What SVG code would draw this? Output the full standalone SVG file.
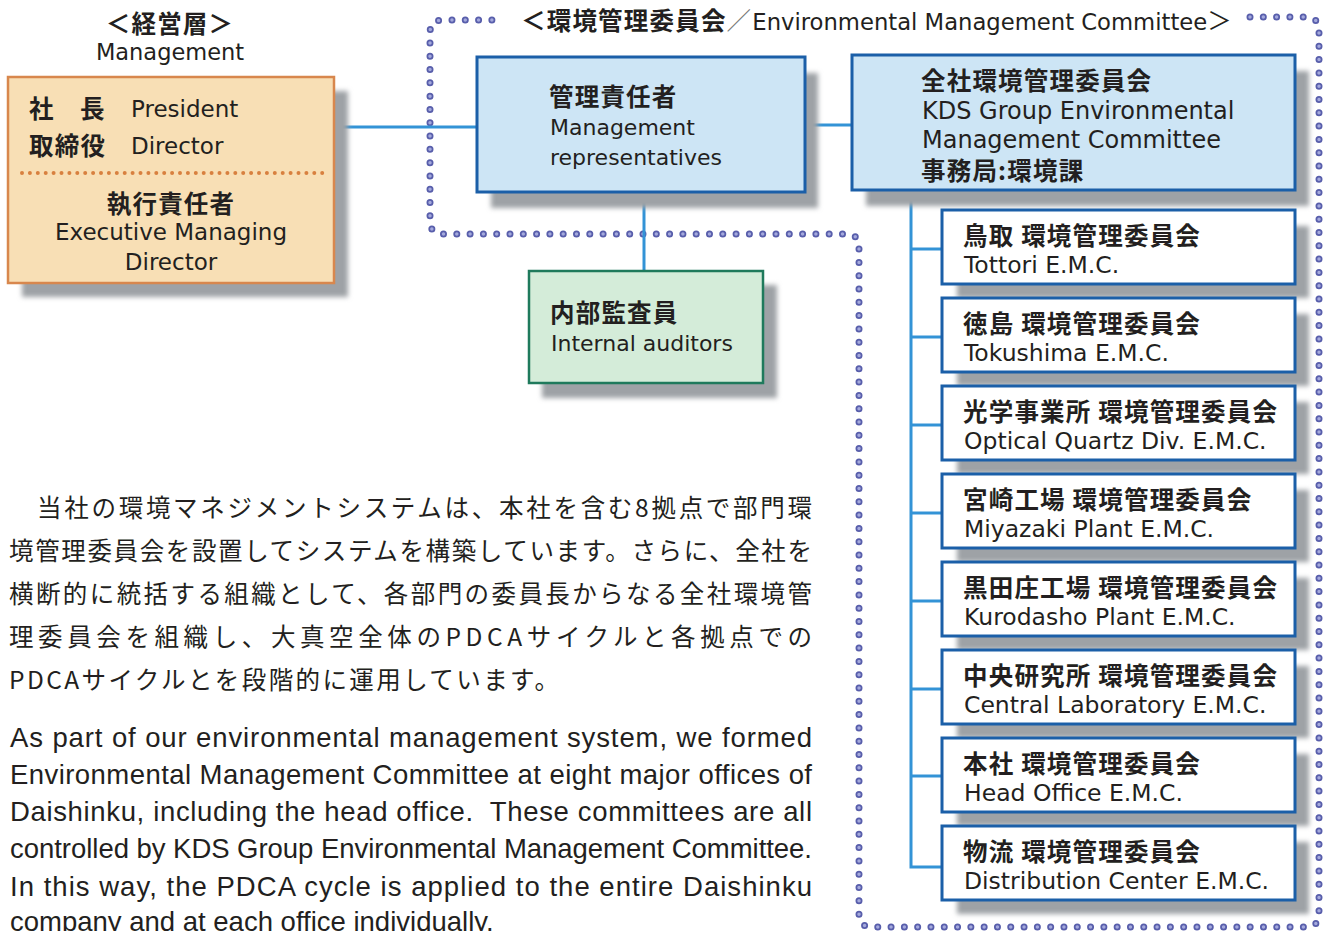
<svg xmlns="http://www.w3.org/2000/svg" width="1328" height="931" viewBox="0 0 1328 931">
<defs>
<filter id="blur" x="-10%" y="-10%" width="130%" height="140%"><feGaussianBlur stdDeviation="2.5"/></filter>
</defs>
<style>
.jp{font-family:"Noto Sans CJK JP",sans-serif;font-weight:700;font-size:24.5px;letter-spacing:1.2px;fill:#231f20}
.en{font-family:"DejaVu Sans","Noto Sans CJK JP",sans-serif;font-size:22px;fill:#231f20}
.en23{font-size:23px}
.en24{font-size:24px}
.sen{font-size:23.5px}
.shadow{fill:#9ea2a6;filter:url(#blur)}
.mgmt{fill:#f8dfb5;stroke:#d8874d;stroke-width:2.5}
.blue{fill:#cde5f5;stroke:#1b5fa8;stroke-width:3}
.site{fill:#ffffff;stroke:#1b5fa8;stroke-width:3}
.green{fill:#d4ecd9;stroke:#1f7a5c;stroke-width:2.5}
.conn{fill:none;stroke:#3393d6;stroke-width:3}
.dotO{fill:none;stroke:#585eab;stroke-width:7;stroke-linecap:round;stroke-dasharray:0 13.3}
.dotI{fill:none;stroke:#a4a9dd;stroke-width:3.5;stroke-linecap:round;stroke-dasharray:0 13.3}
.bodyjp{font-family:"Noto Sans CJK JP",sans-serif;font-size:24.5px;fill:#231f20}
.bodyen{font-family:"Liberation Sans",Arial,sans-serif;font-size:27.5px;fill:#231f20}
</style>
<rect width="1328" height="931" fill="#ffffff"/>

<!-- committee dotted boundary -->
<g id="committee-boundary">
<path class="dotO" d="M 1250 17 L 1305 17 Q 1319 17 1319 30 L 1319 914 Q 1319 927 1305 927 L 872 927 Q 859 927 859 914 L 859 247 Q 859 234 846 234 L 443 234 Q 430 234 430 221 L 430 33 Q 430 20 443 20 L 499 20"/>
<path class="dotI" d="M 1250 17 L 1305 17 Q 1319 17 1319 30 L 1319 914 Q 1319 927 1305 927 L 872 927 Q 859 927 859 914 L 859 247 Q 859 234 846 234 L 443 234 Q 430 234 430 221 L 430 33 Q 430 20 443 20 L 499 20"/>
<text x="521" y="29.5"><tspan class="jp">＜環境管理委員会</tspan><tspan class="jp" style="font-weight:400;fill:#777">／</tspan><tspan class="en" style="font-size:22.7px">Environmental Management Committee</tspan><tspan class="jp" style="font-weight:400">＞</tspan></text>
</g>

<!-- headers -->
<g id="management-header">
<text class="jp" x="170" y="32.5" text-anchor="middle">＜経営層＞</text>
<text class="en" x="170" y="60" text-anchor="middle" style="font-size:22.5px">Management</text>
</g>

<!-- connectors -->
<g id="connectors">
<line class="conn" x1="334" y1="127" x2="477" y2="127"/>
<line class="conn" x1="805" y1="125" x2="852" y2="125"/>
<line class="conn" x1="644" y1="192" x2="644" y2="271"/>
<path class="conn" d="M 911 190 L 911 867 L 942 867"/>
<line class="conn" x1="911" y1="249" x2="942" y2="249"/>
<line class="conn" x1="911" y1="337" x2="942" y2="337"/>
<line class="conn" x1="911" y1="425" x2="942" y2="425"/>
<line class="conn" x1="911" y1="513" x2="942" y2="513"/>
<line class="conn" x1="911" y1="601" x2="942" y2="601"/>
<line class="conn" x1="911" y1="689" x2="942" y2="689"/>
<line class="conn" x1="911" y1="776" x2="942" y2="776"/>
</g>

<!-- management box -->
<g id="management">
<rect class="shadow" x="22" y="91" width="326" height="206"/>
<rect class="mgmt" x="8" y="77" width="326" height="206"/>
<line x1="22" y1="173" x2="330" y2="173" stroke="#d8803f" stroke-width="4" stroke-linecap="round" stroke-dasharray="0 7.9"/>
<text class="jp" x="29" y="118">社</text>
<text class="jp" x="80" y="118">長</text>
<text class="en en23" x="131" y="117">President</text>
<text class="jp" x="29" y="154.5">取締役</text>
<text class="en en23" x="131" y="154">Director</text>
<text class="jp" x="171" y="212.5" text-anchor="middle">執行責任者</text>
<text class="en en23" x="171" y="240" text-anchor="middle">Executive Managing</text>
<text class="en en23" x="171" y="270" text-anchor="middle">Director</text>
</g>

<!-- management representatives -->
<g id="management-representatives">
<rect class="shadow" x="491" y="73" width="327" height="135"/>
<rect class="blue" x="477" y="57" width="328" height="135"/>
<text class="jp" x="549" y="105.5">管理責任者</text>
<text class="en" x="550" y="135">Management</text>
<text class="en" x="550" y="165">representatives</text>
</g>

<!-- KDS group committee -->
<g id="kds-group-committee">
<rect class="shadow" x="866" y="71" width="443" height="135"/>
<rect class="blue" x="852" y="55" width="443" height="135"/>
<text class="jp" x="921" y="90">全社環境管理委員会</text>
<text class="en en24" x="922" y="119">KDS Group Environmental</text>
<text class="en en24" x="922" y="148">Management Committee</text>
<text class="jp" x="921" y="180">事務局:環境課</text>
</g>

<!-- internal auditors -->
<g id="internal-auditors">
<rect class="shadow" x="542" y="285" width="235" height="113"/>
<rect class="green" x="529" y="271" width="234" height="112"/>
<text class="jp" x="550" y="322">内部監査員</text>
<text class="en" x="551" y="351">Internal auditors</text>
</g>

<!-- site committees -->
<g id="tottori">
<rect class="shadow" x="957" y="226" width="352" height="72"/>
<rect class="site" x="942" y="210" width="353" height="74"/>
<text class="jp" x="963" y="245">鳥取 環境管理委員会</text>
<text class="en sen" x="964" y="273">Tottori E.M.C.</text>
</g>
<g id="tokushima">
<rect class="shadow" x="957" y="314" width="352" height="72"/>
<rect class="site" x="942" y="298" width="353" height="74"/>
<text class="jp" x="963" y="333">徳島 環境管理委員会</text>
<text class="en sen" x="964" y="361">Tokushima E.M.C.</text>
</g>
<g id="optical-quartz">
<rect class="shadow" x="957" y="402" width="352" height="72"/>
<rect class="site" x="942" y="386" width="353" height="74"/>
<text class="jp" x="963" y="421">光学事業所 環境管理委員会</text>
<text class="en sen" x="964" y="449">Optical Quartz Div. E.M.C.</text>
</g>
<g id="miyazaki">
<rect class="shadow" x="957" y="490" width="352" height="72"/>
<rect class="site" x="942" y="474" width="353" height="74"/>
<text class="jp" x="963" y="509">宮崎工場 環境管理委員会</text>
<text class="en sen" x="964" y="537">Miyazaki Plant E.M.C.</text>
</g>
<g id="kurodasho">
<rect class="shadow" x="957" y="578" width="352" height="72"/>
<rect class="site" x="942" y="562" width="353" height="74"/>
<text class="jp" x="963" y="597">黒田庄工場 環境管理委員会</text>
<text class="en sen" x="964" y="625">Kurodasho Plant E.M.C.</text>
</g>
<g id="central-laboratory">
<rect class="shadow" x="957" y="666" width="352" height="72"/>
<rect class="site" x="942" y="650" width="353" height="74"/>
<text class="jp" x="963" y="685">中央研究所 環境管理委員会</text>
<text class="en sen" x="964" y="713">Central Laboratory E.M.C.</text>
</g>
<g id="head-office">
<rect class="shadow" x="957" y="754" width="352" height="72"/>
<rect class="site" x="942" y="738" width="353" height="74"/>
<text class="jp" x="963" y="773">本社 環境管理委員会</text>
<text class="en sen" x="964" y="801">Head Office E.M.C.</text>
</g>
<g id="distribution-center">
<rect class="shadow" x="957" y="842" width="352" height="72"/>
<rect class="site" x="942" y="826" width="353" height="74"/>
<text class="jp" x="963" y="861">物流 環境管理委員会</text>
<text class="en sen" x="964" y="889">Distribution Center E.M.C.</text>
</g>

<!-- body text -->
<g id="body-japanese">
<text class="bodyjp" x="37" y="517" textLength="775" lengthAdjust="spacing">当社の環境マネジメントシステムは、本社を含む8拠点で部門環</text>
<text class="bodyjp" x="9" y="560" textLength="803" lengthAdjust="spacing">境管理委員会を設置してシステムを構築しています。さらに、全社を</text>
<text class="bodyjp" x="9" y="603" textLength="803" lengthAdjust="spacing">横断的に統括する組織として、各部門の委員長からなる全社環境管</text>
<text class="bodyjp" x="9" y="646" textLength="803" lengthAdjust="spacing">理委員会を組織し、大真空全体のPDCAサイクルと各拠点での</text>
<text class="bodyjp" x="9" y="689" textLength="550" lengthAdjust="spacing">PDCAサイクルとを段階的に運用しています。</text>
</g>
<g id="body-english">
<text class="bodyen" x="10" y="746.5" textLength="802" lengthAdjust="spacing">As part of our environmental management system, we formed</text>
<text class="bodyen" x="10" y="783.5" textLength="802" lengthAdjust="spacing">Environmental Management Committee at eight major offices of</text>
<text class="bodyen" x="10" y="820.5" textLength="802" lengthAdjust="spacing">Daishinku, including the head office.&#160; These committees are all</text>
<text class="bodyen" x="10" y="857.5" textLength="802" lengthAdjust="spacing">controlled by KDS Group Environmental Management Committee.</text>
<text class="bodyen" x="10" y="895.5" textLength="802" lengthAdjust="spacing">In this way, the PDCA cycle is applied to the entire Daishinku</text>
<text class="bodyen" x="10" y="931">company and at each office individually.</text>
</g>
</svg>
